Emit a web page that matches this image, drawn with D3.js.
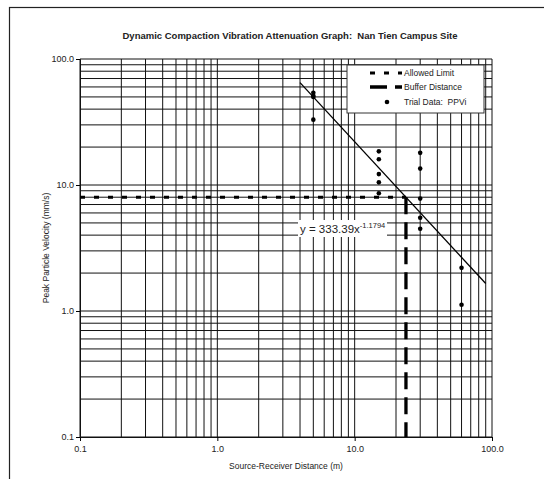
<!DOCTYPE html>
<html lang="en">
<head>
<meta charset="UTF-8" />
<title>Dynamic Compaction Vibration Attenuation Graph</title>
<script src="https://d3js.org/d3.v7.min.js"></script>
<style>
  body { margin: 0; background: #fff; }
  svg { display: block; font-family: Arial, "Liberation Sans", sans-serif; }
  svg text { white-space: pre; }
  .grid line { stroke: #111; stroke-width: 1; }
  .tick-label { font-size: 9px; fill: #222; }
</style>
</head>
<body>
<script>
// values
const xTicks = [0.1, 1, 10, 100];
const yTicks = [0.1, 1, 10, 100];
const trialDistance = [5, 5, 5, 5, 15, 15, 15, 15, 15, 30, 30, 30, 30, 30, 60, 60];
const trialPPV = [54, 51, 50, 33, 18.5, 16, 12.2, 10.5, 8.6, 18, 13.5, 7.8, 5.5, 4.5, 2.2, 1.12];
const fitA = 333.39, fitB = -1.1794;
const fitRange = [4, 90];
const allowedLimit = 8;
const legendItems = ["Allowed Limit", "Buffer Distance", "Trial Data:  PPVi"];

const W = 544, H = 479;
const plot = { left: 80, right: 492, top: 59, bottom: 437 };

const svg = d3.select("body").append("svg")
  .attr("width", W).attr("height", H);

// chart frame (cut off by the page on right and bottom)
svg.append("rect")
  .attr("x", 9.5).attr("y", 7.5)
  .attr("width", 600).attr("height", 600)
  .attr("fill", "#fff").attr("stroke", "#222").attr("stroke-width", 1.2);

const x = d3.scaleLog().domain([0.1, 100]).range([plot.left, plot.right]);
const y = d3.scaleLog().domain([0.1, 100]).range([plot.bottom, plot.top]);

svg.append("text")
  .attr("x", 290).attr("y", 39)
  .attr("text-anchor", "middle")
  .style("font-size", "9.5px").style("font-weight", "bold").style("fill", "#222")
  .text("Dynamic Compaction Vibration Attenuation Graph:  Nan Tien Campus Site");

// gridlines at every 1..9 of each decade
const gridVals = [];
[0.1, 1, 10].forEach(d => { for (let k = 1; k <= 9; k++) gridVals.push(+(d * k).toPrecision(3)); });
gridVals.push(100);

const grid = svg.append("g").attr("class", "grid");
grid.selectAll("line.v").data(gridVals).enter().append("line")
  .attr("class", "v")
  .attr("x1", d => x(d)).attr("x2", d => x(d))
  .attr("y1", plot.top).attr("y2", plot.bottom);
grid.selectAll("line.h").data(gridVals).enter().append("line")
  .attr("class", "h")
  .attr("y1", d => y(d)).attr("y2", d => y(d))
  .attr("x1", plot.left).attr("x2", plot.right);

// axes
const fmt = d3.format(".1f");
svg.append("g")
  .attr("transform", `translate(0,${plot.bottom})`)
  .call(d3.axisBottom(x).tickValues(xTicks).tickFormat(fmt).tickSize(4).tickPadding(5))
  .call(g => g.select(".domain").attr("stroke", "#111"))
  .call(g => g.selectAll("text").attr("class", "tick-label").attr("font-family", null).attr("font-size", null));

svg.append("g")
  .attr("transform", `translate(${plot.left},0)`)
  .call(d3.axisLeft(y).tickValues(yTicks).tickFormat(fmt).tickSize(4).tickPadding(2))
  .call(g => g.select(".domain").attr("stroke", "#111"))
  .call(g => g.selectAll("text").attr("class", "tick-label").attr("font-family", null).attr("font-size", null));

svg.append("text")
  .attr("x", (plot.left + plot.right) / 2).attr("y", 469)
  .attr("text-anchor", "middle")
  .style("font-size", "8.5px").style("fill", "#222")
  .text("Source-Receiver Distance (m)");

svg.append("text")
  .attr("transform", `translate(49,${(plot.top + plot.bottom) / 2}) rotate(-90)`)
  .attr("text-anchor", "middle")
  .style("font-size", "8.5px").style("fill", "#222")
  .text("Peak Particle Velocity (mm/s)");

// allowed limit and buffer distance
const bufferDist = Math.pow(allowedLimit / fitA, 1 / fitB);

svg.append("line")
  .attr("x1", x(0.1)).attr("x2", x(bufferDist))
  .attr("y1", y(allowedLimit)).attr("y2", y(allowedLimit))
  .attr("stroke", "#000").attr("stroke-width", 3)
  .attr("stroke-dasharray", "5,9");

svg.append("line")
  .attr("x1", x(bufferDist)).attr("x2", x(bufferDist))
  .attr("y1", y(allowedLimit)).attr("y2", y(0.1))
  .attr("stroke", "#000").attr("stroke-width", 3.3)
  .attr("stroke-dasharray", "17,8");

// power trend line
svg.append("line")
  .attr("x1", x(fitRange[0])).attr("y1", y(fitA * Math.pow(fitRange[0], fitB)))
  .attr("x2", x(fitRange[1])).attr("y2", y(fitA * Math.pow(fitRange[1], fitB)))
  .attr("stroke", "#000").attr("stroke-width", 1.3);

// trial data
svg.selectAll("circle.pt").data(trialDistance).enter().append("circle")
  .attr("class", "pt")
  .attr("cx", d => x(d))
  .attr("cy", (d, i) => y(trialPPV[i]))
  .attr("r", 2.3)
  .attr("fill", "#000");

// equation label
const eq = svg.append("g").attr("transform", "translate(298,220)");
eq.append("rect").attr("width", 89).attr("height", 17).attr("fill", "#fff");
const eqText = eq.append("text").attr("x", 2).attr("y", 13)
  .style("font-size", "11.5px").style("fill", "#222");
eqText.append("tspan").text("y = 333.39x");
eqText.append("tspan").attr("dy", -5).style("font-size", "7.5px").text("-1.1794");

// legend
const leg = svg.append("g").attr("transform", "translate(347,65)");
leg.append("rect").attr("width", 137).attr("height", 48)
  .attr("fill", "#fff").attr("stroke", "#333").attr("stroke-width", 1);

const legY = [8, 22, 37];
leg.selectAll("text").data(legendItems).enter().append("text")
  .attr("x", 57).attr("y", (d, i) => legY[i] + 3)
  .style("font-size", "8.5px").style("fill", "#222")
  .text(d => d);

leg.append("line").attr("x1", 23).attr("x2", 55)
  .attr("y1", legY[0]).attr("y2", legY[0])
  .attr("stroke", "#000").attr("stroke-width", 3).attr("stroke-dasharray", "5,9");
leg.append("line").attr("x1", 23).attr("x2", 55)
  .attr("y1", legY[1]).attr("y2", legY[1])
  .attr("stroke", "#000").attr("stroke-width", 3.3).attr("stroke-dasharray", "17,8");
leg.append("circle").attr("cx", 40).attr("cy", legY[2]).attr("r", 2.3).attr("fill", "#000");
</script>
</body>
</html>
